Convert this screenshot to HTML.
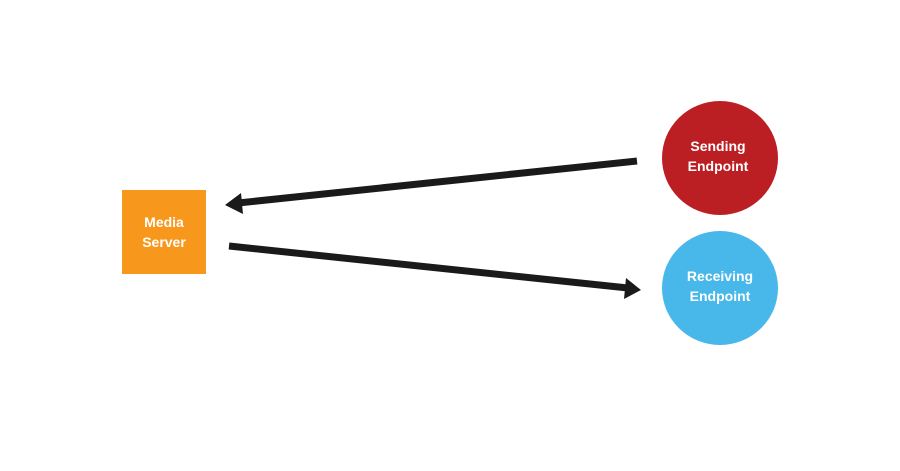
<!DOCTYPE html>
<html><head><style>
html,body{margin:0;padding:0;background:#fff;}
svg{display:block;}
text{font-family:"Liberation Sans",sans-serif;font-size:14px;font-weight:bold;fill:#fff;}
</style></head><body>
<svg width="900" height="471" viewBox="0 0 900 471">
<rect x="122" y="190" width="84" height="84" fill="#f7981d"/>
<text x="164" y="227" text-anchor="middle">Media</text>
<text x="164" y="247" text-anchor="middle">Server</text>
<ellipse cx="720" cy="158" rx="58" ry="57" fill="#bb1f24"/>
<text x="718" y="151" text-anchor="middle">Sending</text>
<text x="718" y="171" text-anchor="middle">Endpoint</text>
<ellipse cx="720" cy="288" rx="58" ry="57" fill="#48b8ea"/>
<text x="720" y="281" text-anchor="middle">Receiving</text>
<text x="720" y="301" text-anchor="middle">Endpoint</text>
<line x1="637" y1="161" x2="238" y2="203" stroke="#1a1a1a" stroke-width="7"/>
<polygon points="225,205 241,193 243,214" fill="#1a1a1a"/>
<line x1="229" y1="246" x2="628" y2="288" stroke="#1a1a1a" stroke-width="7"/>
<polygon points="641,290 626,278 624,299" fill="#1a1a1a"/>
</svg>
</body></html>
